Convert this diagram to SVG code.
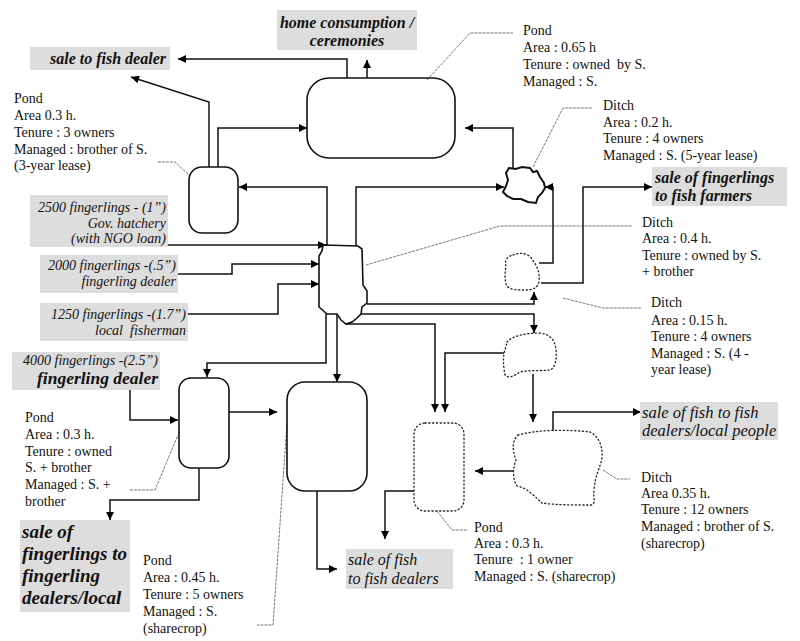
<svg xmlns="http://www.w3.org/2000/svg" width="800" height="641" viewBox="0 0 800 641">
<defs>
<marker id="ah" viewBox="0 0 10 10" refX="10" refY="5" markerWidth="9" markerHeight="8" markerUnits="userSpaceOnUse" orient="auto"><path d="M0,0 L10,5 L0,10 z" fill="#000"/></marker>
<style>
.bg{fill:#fff}
.box{fill:#dddddd}
.pond{fill:none;stroke:#111;stroke-width:1.6}
.dot{fill:none;stroke:#222;stroke-width:1.3;stroke-dasharray:1.2 2.6;stroke-linecap:round}
.jag{fill:none;stroke:#111;stroke-width:2}
.c{fill:none;stroke:#111;stroke-width:1.5;marker-end:url(#ah)}
.ld{fill:none;stroke:#555;stroke-width:0.8;stroke-dasharray:3 1}
.lbl{font-family:"Liberation Serif","Times New Roman",serif;font-size:14px;fill:#111}
.it{font-family:"Liberation Serif","Times New Roman",serif;font-style:italic;fill:#111}
.b{font-weight:bold}
</style>
</defs>
<rect class="bg" width="800" height="641"/>

<g id="connectors">
<path class="c" d="M347,78 V59 H178"/>
<path class="c" d="M367,78 V60"/>
<path class="c" d="M209,167 V102 L131,77"/>
<path class="c" d="M218,167 V128 H307"/>
<path class="c" d="M513,168 V128 H465"/>
<path class="c" d="M327,245 V187 H239"/>
<path class="c" d="M356,246 V187 H504"/>
<path class="c" d="M539,263 H553 V187 H545"/>
<path class="c" d="M541,283 H583 V187 H652"/>
<path class="c" d="M168,245 H326"/>
<path class="c" d="M178,274 H232 V264 H319"/>
<path class="c" d="M188,314 H278 V284 H319"/>
<path class="c" d="M367,304 H534 V292"/>
<path class="c" d="M361,314 H534 V333"/>
<path class="c" d="M346,324 H435 V412"/>
<path class="c" d="M504,353 H445 V412"/>
<path class="c" d="M533,374 V422"/>
<path class="c" d="M553,431 V412 H641"/>
<path class="c" d="M514,471 H475"/>
<path class="c" d="M414,491 H385 V539"/>
<path class="c" d="M317,491 V569 H337"/>
<path class="c" d="M326,314 V363 H207 V377"/>
<path class="c" d="M337,314 V382"/>
<path class="c" d="M130,390 V420 H178"/>
<path class="c" d="M229,412 H277"/>
<path class="c" d="M199,468 V500 H110 V520"/>
</g>

<g id="leaders">
<path class="ld" d="M427,80 L470,33 H513"/>
<path class="ld" d="M158,162 H175 L189,175"/>
<path class="ld" d="M533,167 L563,108 H592"/>
<path class="ld" d="M366,265 L500,226 H632"/>
<path class="ld" d="M563,298 L603,308 H642"/>
<path class="ld" d="M603,470 L617,479 H630"/>
<path class="ld" d="M437,511 L452,530 H468"/>
<path class="ld" d="M287,423 L273,625 H257"/>
<path class="ld" d="M130,490 H155 L178,435"/>
</g>

<g id="home-consumption">
<rect class="box" x="277" y="10" width="140" height="40"/>
<text class="it b" font-size="16" x="347" y="28" text-anchor="middle">home consumption /</text>
<text class="it b" font-size="16" x="347" y="46" text-anchor="middle">ceremonies</text>
</g>

<g id="sale-fish-dealer">
<rect class="box" x="30" y="47" width="140" height="23"/>
<text class="it b" font-size="16" x="50" y="64">sale to fish dealer</text>
</g>

<g id="pond-main">
<rect class="pond" x="307" y="78" width="148" height="80" rx="22"/>
<text class="lbl" x="523" y="35">Pond</text>
<text class="lbl" x="523" y="52">Area : 0.65 h</text>
<text class="lbl" x="523" y="69" xml:space="preserve">Tenure : owned  by S.</text>
<text class="lbl" x="523" y="86">Managed : S.</text>
</g>

<g id="pond-left">
<rect class="pond" x="189" y="167" width="49" height="66" rx="13"/>
<text class="lbl" x="14" y="103">Pond</text>
<text class="lbl" x="14" y="120">Area 0.3 h.</text>
<text class="lbl" x="14" y="137">Tenure : 3 owners</text>
<text class="lbl" x="14" y="154">Managed : brother of S.</text>
<text class="lbl" x="14" y="170">(3-year lease)</text>
</g>

<g id="ditch-02">
<path class="jag" d="M509,168 L516,169 L522,167 L530,168 L533,172 L537,171 L540,177 L544,183 L545,188 L542,193 L538,197 L536,203 L528,202 L521,199 L513,199 L507,196 L503,192 L506,186 L508,180 L506,173 Z"/>
<text class="lbl" x="603" y="110">Ditch</text>
<text class="lbl" x="603" y="127">Area : 0.2 h.</text>
<text class="lbl" x="603" y="143">Tenure : 4 owners</text>
<text class="lbl" x="603" y="160">Managed : S. (5-year lease)</text>
</g>

<g id="sale-fingerlings-farmers">
<rect class="box" x="652" y="167" width="135" height="39"/>
<text class="it b" font-size="16" x="655" y="183">sale of fingerlings</text>
<text class="it b" font-size="16" x="655" y="201">to fish farmers</text>
</g>

<g id="source-2500">
<rect class="box" x="30" y="195" width="138" height="52"/>
<text class="it" font-size="14" x="166" y="212" text-anchor="end">2500 fingerlings - (1”)</text>
<text class="it" font-size="14" x="166" y="228" text-anchor="end">Gov. hatchery</text>
<text class="it" font-size="14" x="166" y="243" text-anchor="end">(with NGO loan)</text>
</g>

<g id="source-2000">
<rect class="box" x="40" y="255" width="138" height="38"/>
<text class="it" font-size="14" x="176" y="270" text-anchor="end">2000 fingerlings -(.5”)</text>
<text class="it" font-size="14" x="176" y="286" text-anchor="end">fingerling dealer</text>
</g>

<g id="source-1250">
<rect class="box" x="40" y="303" width="148" height="38"/>
<text class="it" font-size="14" x="186" y="319" text-anchor="end">1250 fingerlings -(1.7”)</text>
<text class="it" font-size="14" x="186" y="335" text-anchor="end" xml:space="preserve">local  fisherman</text>
</g>

<g id="ditch-central">
<path class="pond" d="M323,245 L358,246 L362,249 L363,285 L367,291 L367,303 L362,307 L361,314 L357,318 L352,322 L346,324 L341,320 L337,314 L327,314 L319,307 L319,256 L322,251 Z"/>
<text class="lbl" x="642" y="227">Ditch</text>
<text class="lbl" x="642" y="243">Area : 0.4 h.</text>
<text class="lbl" x="642" y="260">Tenure : owned by S.</text>
<text class="lbl" x="642" y="276">+ brother</text>
</g>

<g id="ditch-dotted-small">
<path class="dot" d="M513,255 C520,252 528,253 532,259 C537,266 540,272 539,281 C538,288 533,290 525,290 C518,290 510,290 507,286 C504,280 505,272 506,266 C504,260 508,256 513,255 Z"/>
</g>

<g id="ditch-015">
<path class="dot" d="M507,342 C512,336 525,333 540,333 C550,334 555,340 556,350 C557,360 555,368 550,370 C540,371 528,370 520,372 C514,376 508,379 505,375 C503,365 503,355 505,350 Z"/>
<text class="lbl" x="651" y="307">Ditch</text>
<text class="lbl" x="651" y="325">Area : 0.15 h.</text>
<text class="lbl" x="651" y="341">Tenure : 4 owners</text>
<text class="lbl" x="651" y="358">Managed : S. (4 -</text>
<text class="lbl" x="651" y="374">year lease)</text>
</g>

<g id="source-4000">
<rect class="box" x="12" y="352" width="148" height="38"/>
<text class="it" font-size="14" x="158" y="365" text-anchor="end">4000 fingerlings -(2.5”)</text>
<text class="it b" font-size="17.5" x="158" y="384" text-anchor="end">fingerling dealer</text>
</g>

<g id="pond-owned">
<rect class="pond" x="179" y="378" width="50" height="90" rx="12"/>
<text class="lbl" x="25" y="422">Pond</text>
<text class="lbl" x="25" y="439">Area : 0.3 h.</text>
<text class="lbl" x="25" y="456">Tenure : owned</text>
<text class="lbl" x="25" y="472">S. + brother</text>
<text class="lbl" x="25" y="489">Managed : S. +</text>
<text class="lbl" x="25" y="506">brother</text>
</g>

<g id="pond-big">
<rect class="pond" x="287" y="382" width="80" height="109" rx="18"/>
<text class="lbl" x="143" y="565">Pond</text>
<text class="lbl" x="143" y="582">Area : 0.45 h.</text>
<text class="lbl" x="143" y="599">Tenure : 5 owners</text>
<text class="lbl" x="143" y="616">Managed : S.</text>
<text class="lbl" x="143" y="633">(sharecrop)</text>
</g>

<g id="pond-dotted">
<rect class="dot" x="414" y="423" width="50" height="88" rx="11"/>
<text class="lbl" x="474" y="532">Pond</text>
<text class="lbl" x="474" y="548">Area : 0.3 h.</text>
<text class="lbl" x="474" y="564" xml:space="preserve">Tenure  : 1 owner</text>
<text class="lbl" x="474" y="581">Managed : S. (sharecrop)</text>
</g>

<g id="ditch-035">
<path class="dot" d="M518,435 C535,430 565,429 590,432 C598,436 603,445 602,458 C600,468 595,476 594,490 C593,498 596,503 592,505 C575,505 555,505 542,503 C535,497 528,488 517,486 C512,478 513,468 516,460 C512,450 512,440 518,435 Z"/>
<text class="lbl" x="641" y="482">Ditch</text>
<text class="lbl" x="641" y="498">Area 0.35 h.</text>
<text class="lbl" x="641" y="514">Tenure : 12 owners</text>
<text class="lbl" x="641" y="531">Managed : brother of S.</text>
<text class="lbl" x="641" y="548">(sharecrop)</text>
</g>

<g id="sale-fish-local">
<rect class="box" x="640" y="402" width="138" height="38"/>
<text class="it" font-size="16.5" x="642" y="418">sale of fish to fish</text>
<text class="it" font-size="16.5" x="642" y="436">dealers/local people</text>
</g>

<g id="sale-fingerlings-dealers">
<rect class="box" x="20" y="520" width="110" height="92"/>
<text class="it b" font-size="19" x="22" y="538">sale of</text>
<text class="it b" font-size="19" x="22" y="560">fingerlings to</text>
<text class="it b" font-size="19" x="22" y="582">fingerling</text>
<text class="it b" font-size="19" x="22" y="604">dealers/local</text>
</g>

<g id="sale-fish-dealers">
<rect class="box" x="346" y="549" width="107" height="40"/>
<text class="it" font-size="16" x="348" y="565">sale of fish</text>
<text class="it" font-size="16" x="348" y="584">to fish dealers</text>
</g>
</svg>
